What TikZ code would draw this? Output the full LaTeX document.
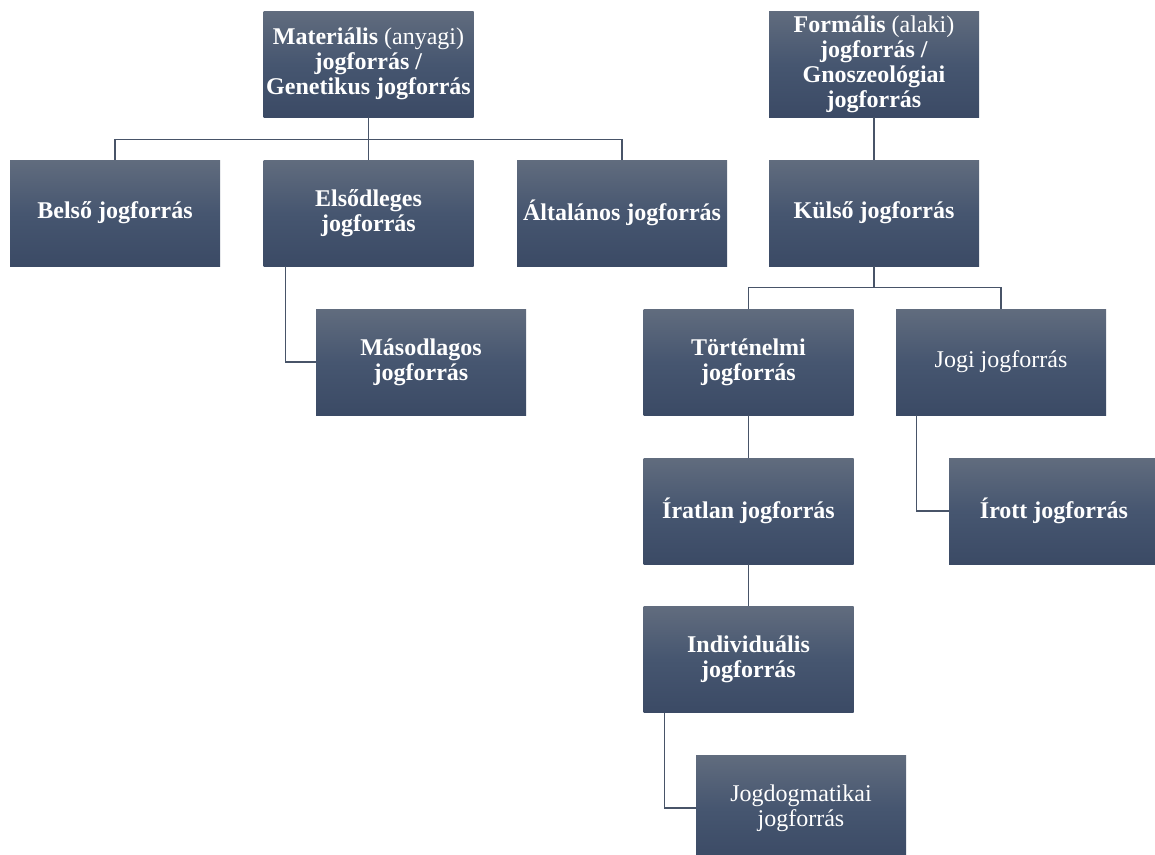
\documentclass[tikz,border=0pt]{standalone}
\usepackage{fontspec}
\setmainfont{Liberation Serif}
\definecolor{boxtop}{RGB}{97,108,126}
\definecolor{boxmid}{RGB}{70,86,112}
\definecolor{boxbot}{RGB}{59,74,101}
\definecolor{connc}{RGB}{72,84,104}
\tikzset{
  orgbox/.style={rectangle, minimum width=210pt, minimum height=106pt, inner sep=1pt,
    top color=boxtop, bottom color=boxbot, middle color=boxmid, text=white, align=center,
    font=\fontsize{24}{25}\selectfont},
  conn/.style={draw=connc, line width=1.3pt}
}
\begin{document}
\begin{tikzpicture}[x=1pt,y=-1pt]
\useasboundingbox (0,0) rectangle (1155,854);
\clip (0,0) rectangle (1155,854);
\fill[white] (0,0) rectangle (1155,854);
% nodes
\node[orgbox] (mat) at (368.5,64) {\textbf{Materiális} (anyagi)\\\textbf{jogforrás /}\\\textbf{Genetikus jogforrás}};
\node[orgbox] (for) at (874,64) {\textbf{Formális} (alaki)\\\textbf{jogforrás /}\\\textbf{Gnoszeológiai}\\\textbf{jogforrás}};
\node[orgbox] (bel) at (115,213) {\textbf{Belső jogforrás}};
\node[orgbox] (els) at (368.5,213) {\textbf{Elsődleges}\\\textbf{jogforrás}};
\node[orgbox] (alt) at (622,213) {\textbf{Általános jogforrás}};
\node[orgbox] (kul) at (874,213) {\textbf{Külső jogforrás}};
\node[orgbox] (mas) at (421,362) {\textbf{Másodlagos}\\\textbf{jogforrás}};
\node[orgbox] (tor) at (748.5,362) {\textbf{Történelmi}\\\textbf{jogforrás}};
\node[orgbox] (jogi) at (1001,362) {Jogi jogforrás};
\node[orgbox] (irat) at (748.5,511) {\textbf{Íratlan jogforrás}};
\node[orgbox] (irott) at (1054,511) {\textbf{Írott jogforrás}};
\node[orgbox] (ind) at (748.5,659.5) {\textbf{Individuális}\\\textbf{jogforrás}};
\node[orgbox] (jogd) at (801,808) {Jogdogmatikai\\jogforrás};
% connectors
\draw[conn] (mat.south) -- ++(0,22) coordinate (mj);
\draw[conn] (bel.north) |- (mj) -| (alt.north);
\draw[conn] (mj) -- (els.north);
\draw[conn] (for.south) -- (kul.north);
\draw[conn] (kul.south) -- ++(0,21) coordinate (kj);
\draw[conn] (tor.north) |- (kj) -| (jogi.north);
\draw[conn] ([xshift=22pt]els.south west) |- (mas.west);
\draw[conn] (tor.south) -- (irat.north);
\draw[conn] ([xshift=21pt]jogi.south west) |- (irott.west);
\draw[conn] (irat.south) -- (ind.north);
\draw[conn] ([xshift=21pt]ind.south west) |- (jogd.west);
\end{tikzpicture}
\end{document}
